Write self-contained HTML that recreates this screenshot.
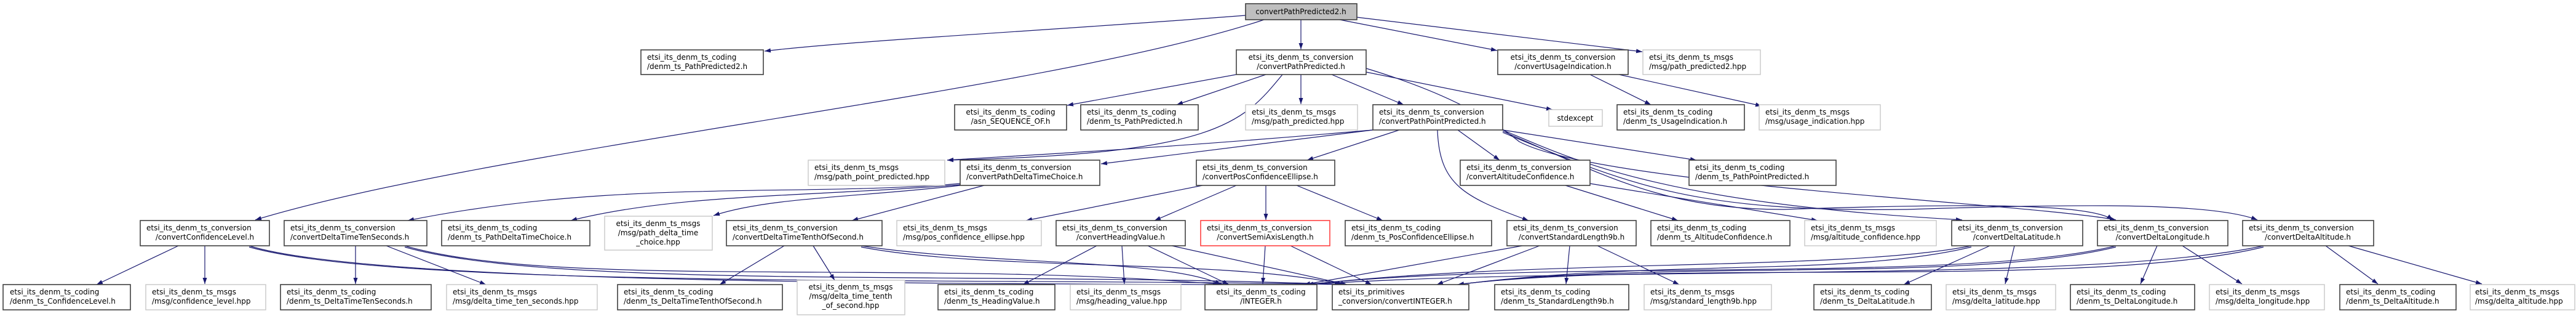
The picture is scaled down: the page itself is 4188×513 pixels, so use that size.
<!DOCTYPE html>
<html><head><meta charset="utf-8"><style>
html,body{margin:0;padding:0;background:#fff;}
svg{display:block;}
text{font-family:"DejaVu Sans","Liberation Sans",sans-serif;font-size:12px;fill:#000;}
.n{fill:#fff;stroke:#404040;stroke-width:1.6;}
.g{fill:#fff;stroke:#c8c8c8;stroke-width:1.4;}
.r{fill:#fff;stroke:#ff4040;stroke-width:1.6;}
.e{fill:none;stroke:#191970;stroke-width:1.2;}
</style></head><body>
<svg width="4188" height="513" viewBox="0 0 4188 513" xmlns="http://www.w3.org/2000/svg">
<defs><marker id="a" viewBox="0 0 10 10" refX="10" refY="5" markerWidth="10" markerHeight="10" markerUnits="userSpaceOnUse" orient="auto"><path d="M0,1.5 L10,5 L0,8.5 z" fill="#191970"/></marker></defs>
<g marker-end="url(#a)">
<!-- root edges -->
<path class="e" d="M2025,25 C1700,50 1400,65 1243,83"/>
<path class="e" d="M2055,32 C1700,150 800,240 415,357"/>
<path class="e" d="M2115,32 L2115,80"/>
<path class="e" d="M2178,32 L2434,82"/>
<path class="e" d="M2206,28 L2670,84"/>
<!-- convertPathPredicted -->
<path class="e" d="M2010,121 L1735,171"/>
<path class="e" d="M2058,121 L1913,170"/>
<path class="e" d="M2115,121 L2115,169"/>
<path class="e" d="M2165,121 L2282,170"/>
<path class="e" d="M2221,117 L2524,178"/>
<path class="e" d="M2085,121 C2020,200 1980,250 1540,260"/>
<path class="e" d="M2221,111 C2350,150 2420,190 2470,230 C2600,300 3300,330 3440,357"/>
<!-- convertUsageIndication -->
<path class="e" d="M2585,121 L2684,170"/>
<path class="e" d="M2632,121 L2864,172"/>
<!-- convertPathPointPredicted -->
<path class="e" d="M2232,211 C1900,240 1700,250 1540,260"/>
<path class="e" d="M2232,211 L1790,266"/>
<path class="e" d="M2275,211 L2125,260"/>
<path class="e" d="M2370,211 L2438,260"/>
<path class="e" d="M2443,211 L2758,260"/>
<path class="e" d="M2337,211 C2340,300 2380,320 2485,358"/>
<path class="e" d="M2443,211 C2560,260 2700,330 3190,357"/>
<path class="e" d="M2443,213 C2600,280 2700,340 2900,340 C3200,330 3400,330 3435,357"/>
<path class="e" d="M2443,215 C2650,300 2750,345 3100,340 C3400,330 3600,330 3670,357"/>
<!-- convertPathDeltaTimeChoice -->
<path class="e" d="M1561,298 C1300,320 1000,290 663,358"/>
<path class="e" d="M1561,300 C1300,320 1100,315 928,358"/>
<path class="e" d="M1561,301 C1400,320 1250,320 1160,350"/>
<path class="e" d="M1600,301 L1385,358"/>
<!-- convertPosConfidenceEllipse -->
<path class="e" d="M1955,301 L1668,358"/>
<path class="e" d="M2010,301 L1877,358"/>
<path class="e" d="M2058,301 L2058,357"/>
<path class="e" d="M2108,301 L2248,358"/>
<!-- convertAltitudeConfidence -->
<path class="e" d="M2545,301 L2728,358"/>
<path class="e" d="M2585,298 L2955,358"/>
<!-- row4 -> row5 -->
<path class="e" d="M290,399 L157,462"/>
<path class="e" d="M333,399 L333,461"/>
<path class="e" d="M405,399 C600,460 1500,460 1982,462"/>
<path class="e" d="M405,401 C650,470 1600,450 2180,462"/>
<path class="e" d="M578,399 L578,461"/>
<path class="e" d="M628,399 L790,462"/>
<path class="e" d="M658,399 C900,470 1500,420 1990,462"/>
<path class="e" d="M658,401 C900,470 1600,440 2188,462"/>
<path class="e" d="M1275,399 L1170,462"/>
<path class="e" d="M1322,399 L1357,455"/>
<path class="e" d="M1400,399 C1600,430 1900,420 1985,462"/>
<path class="e" d="M1400,401 C1600,440 2000,420 2184,462"/>
<path class="e" d="M1783,399 L1663,462"/>
<path class="e" d="M1824,399 L1828,461"/>
<path class="e" d="M1866,399 L1998,462"/>
<path class="e" d="M1905,399 L2190,462"/>
<path class="e" d="M2057,399 L2053,461"/>
<path class="e" d="M2098,399 L2230,462"/>
<path class="e" d="M2475,399 L2120,462"/>
<path class="e" d="M2503,399 L2336,462"/>
<path class="e" d="M2552,399 L2546,461"/>
<path class="e" d="M2597,399 L2730,462"/>
<path class="e" d="M3205,399 C3000,440 2500,420 2125,462"/>
<path class="e" d="M3205,401 C3000,450 2700,420 2370,462"/>
<path class="e" d="M3235,399 L3095,462"/>
<path class="e" d="M3275,399 L3260,461"/>
<path class="e" d="M3440,399 C3200,460 2500,420 2125,462"/>
<path class="e" d="M3440,401 C3200,460 2700,420 2370,462"/>
<path class="e" d="M3507,399 L3480,461"/>
<path class="e" d="M3548,399 L3645,461"/>
<path class="e" d="M3680,399 C3400,460 2600,430 2125,462"/>
<path class="e" d="M3680,401 C3400,470 2700,420 2370,462"/>
<path class="e" d="M3781,399 L3866,461"/>
<path class="e" d="M3818,399 L4035,461"/>
</g>

<!-- Row 0 -->
<rect x="2025" y="6" width="181" height="26" fill="#bfbfbf" stroke="#404040" stroke-width="1.6"/>
<text x="2115" y="23" text-anchor="middle">convertPathPredicted2.h</text>

<!-- Row 1 -->
<rect class="n" x="1042" y="81" width="199" height="40"/><text x="1052" y="97">etsi_its_denm_ts_coding</text><text x="1052" y="112">/denm_ts_PathPredicted2.h</text>
<rect class="n" x="2010" y="81" width="211" height="40"/><text x="2115" y="97" text-anchor="middle">etsi_its_denm_ts_conversion</text><text x="2115" y="112" text-anchor="middle">/convertPathPredicted.h</text>
<rect class="n" x="2435" y="81" width="212" height="40"/><text x="2541" y="97" text-anchor="middle">etsi_its_denm_ts_conversion</text><text x="2541" y="112" text-anchor="middle">/convertUsageIndication.h</text>
<rect class="g" x="2671" y="81" width="191" height="40"/><text x="2681" y="97">etsi_its_denm_ts_msgs</text><text x="2681" y="112">/msg/path_predicted2.hpp</text>

<!-- Row 2 -->
<rect class="n" x="1552" y="170" width="182" height="41"/><text x="1643" y="186" text-anchor="middle">etsi_its_denm_ts_coding</text><text x="1643" y="201" text-anchor="middle">/asn_SEQUENCE_OF.h</text>
<rect class="n" x="1757" y="170" width="191" height="41"/><text x="1767" y="186">etsi_its_denm_ts_coding</text><text x="1767" y="201">/denm_ts_PathPredicted.h</text>
<rect class="g" x="2025" y="170" width="182" height="41"/><text x="2035" y="186">etsi_its_denm_ts_msgs</text><text x="2035" y="201">/msg/path_predicted.hpp</text>
<rect class="n" x="2232" y="170" width="211" height="41"/><text x="2242" y="186">etsi_its_denm_ts_conversion</text><text x="2242" y="201">/convertPathPointPredicted.h</text>
<rect class="g" x="2518" y="178" width="87" height="27"/><text x="2561" y="196" text-anchor="middle">stdexcept</text>
<rect class="n" x="2629" y="170" width="207" height="41"/><text x="2639" y="186">etsi_its_denm_ts_coding</text><text x="2639" y="201">/denm_ts_UsageIndication.h</text>
<rect class="g" x="2860" y="170" width="197" height="41"/><text x="2870" y="186">etsi_its_denm_ts_msgs</text><text x="2870" y="201">/msg/usage_indication.hpp</text>

<!-- Row 3 -->
<rect class="g" x="1314" y="260" width="222" height="41"/><text x="1324" y="276">etsi_its_denm_ts_msgs</text><text x="1324" y="291">/msg/path_point_predicted.hpp</text>
<rect class="n" x="1561" y="260" width="227" height="41"/><text x="1571" y="276">etsi_its_denm_ts_conversion</text><text x="1571" y="291">/convertPathDeltaTimeChoice.h</text>
<rect class="n" x="1945" y="260" width="225" height="41"/><text x="1955" y="276">etsi_its_denm_ts_conversion</text><text x="1955" y="291">/convertPosConfidenceEllipse.h</text>
<rect class="n" x="2374" y="260" width="211" height="41"/><text x="2384" y="276">etsi_its_denm_ts_conversion</text><text x="2384" y="291">/convertAltitudeConfidence.h</text>
<rect class="n" x="2746" y="260" width="239" height="41"/><text x="2756" y="276">etsi_its_denm_ts_coding</text><text x="2756" y="291">/denm_ts_PathPointPredicted.h</text>

<!-- Row 4 -->
<rect class="n" x="228" y="358" width="210" height="41"/><text x="238" y="374">etsi_its_denm_ts_conversion</text><text x="333" y="389" text-anchor="middle">/convertConfidenceLevel.h</text>
<rect class="n" x="462" y="358" width="232" height="41"/><text x="472" y="374">etsi_its_denm_ts_conversion</text><text x="472" y="389">/convertDeltaTimeTenSeconds.h</text>
<rect class="n" x="718" y="358" width="241" height="41"/><text x="728" y="374">etsi_its_denm_ts_coding</text><text x="728" y="389">/denm_ts_PathDeltaTimeChoice.h</text>
<rect class="g" x="983" y="351" width="175" height="55"/><text x="1070" y="367" text-anchor="middle">etsi_its_denm_ts_msgs</text><text x="1070" y="382" text-anchor="middle">/msg/path_delta_time</text><text x="1070" y="397" text-anchor="middle">_choice.hpp</text>
<rect class="n" x="1181" y="358" width="253" height="41"/><text x="1191" y="374">etsi_its_denm_ts_conversion</text><text x="1191" y="389">/convertDeltaTimeTenthOfSecond.h</text>
<rect class="g" x="1458" y="358" width="235" height="41"/><text x="1468" y="374">etsi_its_denm_ts_msgs</text><text x="1468" y="389">/msg/pos_confidence_ellipse.hpp</text>
<rect class="n" x="1717" y="358" width="210" height="41"/><text x="1727" y="374">etsi_its_denm_ts_conversion</text><text x="1822" y="389" text-anchor="middle">/convertHeadingValue.h</text>
<rect class="r" x="1952" y="358" width="210" height="41"/><text x="1962" y="374">etsi_its_denm_ts_conversion</text><text x="2057" y="389" text-anchor="middle">/convertSemiAxisLength.h</text>
<rect class="n" x="2187" y="358" width="238" height="41"/><text x="2197" y="374">etsi_its_denm_ts_coding</text><text x="2197" y="389">/denm_ts_PosConfidenceEllipse.h</text>
<rect class="n" x="2450" y="358" width="210" height="41"/><text x="2460" y="374">etsi_its_denm_ts_conversion</text><text x="2555" y="389" text-anchor="middle">/convertStandardLength9b.h</text>
<rect class="n" x="2684" y="358" width="226" height="41"/><text x="2694" y="374">etsi_its_denm_ts_coding</text><text x="2694" y="389">/denm_ts_AltitudeConfidence.h</text>
<rect class="g" x="2934" y="358" width="214" height="41"/><text x="2944" y="374">etsi_its_denm_ts_msgs</text><text x="2944" y="389">/msg/altitude_confidence.hpp</text>
<rect class="n" x="3173" y="358" width="213" height="41"/><text x="3183" y="374">etsi_its_denm_ts_conversion</text><text x="3279" y="389" text-anchor="middle">/convertDeltaLatitude.h</text>
<rect class="n" x="3410" y="358" width="212" height="41"/><text x="3420" y="374">etsi_its_denm_ts_conversion</text><text x="3516" y="389" text-anchor="middle">/convertDeltaLongitude.h</text>
<rect class="n" x="3646" y="358" width="213" height="41"/><text x="3656" y="374">etsi_its_denm_ts_conversion</text><text x="3752" y="389" text-anchor="middle">/convertDeltaAltitude.h</text>

<!-- Row 5 -->
<rect class="n" x="5" y="462" width="207" height="41"/><text x="16" y="478">etsi_its_denm_ts_coding</text><text x="16" y="493">/denm_ts_ConfidenceLevel.h</text>
<rect class="g" x="237" y="462" width="195" height="41"/><text x="247" y="478">etsi_its_denm_ts_msgs</text><text x="247" y="493">/msg/confidence_level.hpp</text>
<rect class="n" x="456" y="462" width="245" height="41"/><text x="466" y="478">etsi_its_denm_ts_coding</text><text x="466" y="493">/denm_ts_DeltaTimeTenSeconds.h</text>
<rect class="g" x="726" y="462" width="245" height="41"/><text x="736" y="478">etsi_its_denm_ts_msgs</text><text x="736" y="493">/msg/delta_time_ten_seconds.hpp</text>
<rect class="n" x="1004" y="462" width="268" height="41"/><text x="1014" y="478">etsi_its_denm_ts_coding</text><text x="1014" y="493">/denm_ts_DeltaTimeTenthOfSecond.h</text>
<rect class="g" x="1296" y="455" width="175" height="56"/><text x="1383" y="470" text-anchor="middle">etsi_its_denm_ts_msgs</text><text x="1383" y="485" text-anchor="middle">/msg/delta_time_tenth</text><text x="1383" y="500" text-anchor="middle">_of_second.hpp</text>
<rect class="n" x="1525" y="462" width="190" height="41"/><text x="1535" y="478">etsi_its_denm_ts_coding</text><text x="1535" y="493">/denm_ts_HeadingValue.h</text>
<rect class="g" x="1740" y="462" width="180" height="41"/><text x="1750" y="478">etsi_its_denm_ts_msgs</text><text x="1750" y="493">/msg/heading_value.hpp</text>
<rect class="n" x="1959" y="462" width="182" height="41"/><text x="2050" y="478" text-anchor="middle">etsi_its_denm_ts_coding</text><text x="2050" y="493" text-anchor="middle">/INTEGER.h</text>
<rect class="n" x="2166" y="462" width="222" height="41"/><text x="2176" y="478">etsi_its_primitives</text><text x="2176" y="493">_conversion/convertINTEGER.h</text>
<rect class="n" x="2430" y="462" width="218" height="41"/><text x="2440" y="478">etsi_its_denm_ts_coding</text><text x="2440" y="493">/denm_ts_StandardLength9b.h</text>
<rect class="g" x="2673" y="462" width="207" height="41"/><text x="2683" y="478">etsi_its_denm_ts_msgs</text><text x="2683" y="493">/msg/standard_length9b.hpp</text>
<rect class="n" x="2949" y="462" width="191" height="41"/><text x="2959" y="478">etsi_its_denm_ts_coding</text><text x="2959" y="493">/denm_ts_DeltaLatitude.h</text>
<rect class="g" x="3164" y="462" width="178" height="41"/><text x="3174" y="478">etsi_its_denm_ts_msgs</text><text x="3174" y="493">/msg/delta_latitude.hpp</text>
<rect class="n" x="3366" y="462" width="202" height="41"/><text x="3376" y="478">etsi_its_denm_ts_coding</text><text x="3376" y="493">/denm_ts_DeltaLongitude.h</text>
<rect class="g" x="3592" y="462" width="187" height="41"/><text x="3602" y="478">etsi_its_denm_ts_msgs</text><text x="3602" y="493">/msg/delta_longitude.hpp</text>
<rect class="n" x="3804" y="462" width="189" height="41"/><text x="3814" y="478">etsi_its_denm_ts_coding</text><text x="3814" y="493">/denm_ts_DeltaAltitude.h</text>
<rect class="g" x="4016" y="462" width="170" height="41"/><text x="4024" y="478">etsi_its_denm_ts_msgs</text><text x="4024" y="493">/msg/delta_altitude.hpp</text>
</svg>
</body></html>
